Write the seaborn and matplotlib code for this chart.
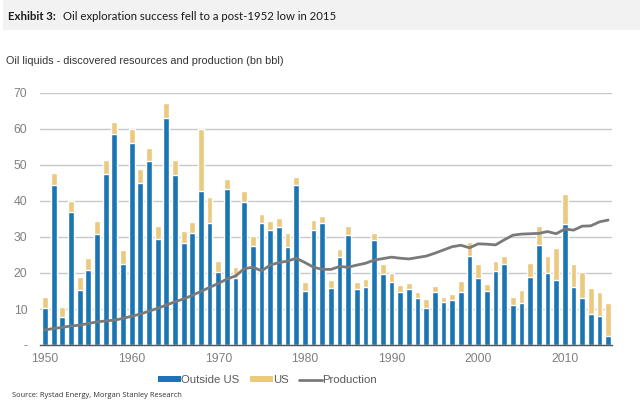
import numpy as np
import pandas as pd
import seaborn as sns
import matplotlib.pyplot as plt
from matplotlib.patches import Patch, Rectangle
from matplotlib.lines import Line2D

years = list(range(1950, 2016))

outside_us = [10.4, 44.4, 7.7, 36.9, 15.3, 20.7, 30.9, 47.5, 58.7, 22.5,
              56.2, 45.1, 51.0, 29.5, 63.1, 47.3, 28.2, 31.1, 42.9, 33.8,
              20.3, 43.3, 18.7, 39.8, 27.4, 33.8, 31.8, 32.8, 27.3, 44.3,
              15.1, 31.9, 33.8, 15.7, 24.4, 30.5, 15.5, 16.0, 29.2, 19.7,
              17.6, 14.8, 15.5, 13.0, 10.4, 14.6, 11.9, 12.4, 14.7, 24.8,
              18.6, 14.9, 20.6, 22.4, 11.1, 11.8, 18.9, 27.9, 20.1, 18.0,
              33.5, 16.1, 13.1, 8.5, 8.0, 2.5]

total = [13.4, 47.9, 10.6, 40.0, 18.8, 24.1, 34.4, 51.4, 62.0, 26.4,
         60.0, 49.0, 54.8, 33.1, 67.1, 51.4, 31.6, 34.1, 60.0, 41.0,
         23.4, 46.1, 21.6, 42.8, 30.4, 36.5, 34.4, 35.2, 31.0, 46.6,
         17.5, 34.7, 35.8, 18.0, 26.7, 33.0, 17.6, 18.4, 31.0, 22.4,
         20.1, 16.6, 17.1, 14.7, 12.9, 16.5, 13.4, 14.1, 17.8, 28.5,
         22.5, 16.9, 23.2, 24.6, 13.3, 15.3, 22.8, 33.0, 24.7, 27.0,
         42.0, 22.4, 20.4, 15.9, 14.8, 11.8]

us = [round(t - o, 1) for t, o in zip(total, outside_us)]

production = [4.2, 4.6, 4.9, 5.3, 5.5, 6.0, 6.4, 6.7, 6.9, 7.4,
              8.0, 8.6, 9.4, 10.2, 11.1, 12.0, 12.8, 13.8, 14.9, 16.0,
              17.1, 18.3, 19.2, 21.2, 21.6, 20.6, 22.2, 22.9, 23.3, 24.1,
              22.9, 21.6, 21.0, 21.0, 21.8, 21.6, 22.2, 22.7, 23.6, 24.0,
              24.4, 24.1, 23.9, 24.3, 24.7, 25.5, 26.4, 27.3, 27.7, 27.0,
              28.1, 28.0, 27.8, 29.2, 30.5, 30.8, 30.9, 31.0, 31.5, 30.9,
              32.2, 31.9, 33.0, 33.1, 34.2, 34.7]

df = pd.DataFrame({'year': years, 'outside': outside_us, 'us': us,
                   'production': production})
df['total'] = df['outside'] + df['us']

blue = '#1b75b3'
tan = '#ebc97f'
gray = '#7a7a7a'

sns.set_style('white')
plt.rcParams['font.family'] = ['Liberation Sans', 'DejaVu Sans']

fig = plt.figure(figsize=(6.4, 4.04), dpi=100)
ax = fig.add_axes([0.0625, 0.146, 0.894, 0.624])

# stacked bars: total in tan, outside US drawn over it
sns.barplot(data=df, x='year', y='total', color=tan, native_scale=True,
            width=0.66, saturation=1, ax=ax)
sns.barplot(data=df, x='year', y='outside', color=blue, native_scale=True,
            width=0.66, saturation=1, ax=ax)
sns.lineplot(data=df, x='year', y='production', color=gray, linewidth=2,
             ax=ax)

ax.set_xlim(1949.42, 2015.46)
ax.set_ylim(0, 70)
ax.set_yticks(range(0, 71, 10))
ax.set_yticklabels(['-'] + [str(v) for v in range(10, 71, 10)])
ax.set_xticks(range(1950, 2011, 10))
ax.set_xticklabels([str(v) for v in range(1950, 2011, 10)])
ax.yaxis.grid(True, color='#c8c8c8', linewidth=1)
ax.set_axisbelow(True)
ax.set_xlabel('')
ax.set_ylabel('')
ax.tick_params(axis='both', length=0, labelsize=8.8, colors='#808080')
ax.tick_params(axis='y', pad=9)
ax.tick_params(axis='x', pad=6)
for s in ['top', 'right', 'left']:
    ax.spines[s].set_visible(False)
ax.spines['bottom'].set_color('#555555')
ax.spines['bottom'].set_linewidth(1)

handles = [Patch(facecolor=blue, edgecolor='none'),
           Patch(facecolor=tan, edgecolor='none'),
           Line2D([0], [0], color=gray, linewidth=2)]
leg = fig.legend(handles, ['Outside US', 'US', 'Production'],
                 loc='center', bbox_to_anchor=(0.418, 0.059), ncol=3,
                 frameon=False, fontsize=8.2, handlelength=2.0,
                 handleheight=0.45, handletextpad=0.05, columnspacing=0.9)
for t in leg.get_texts():
    t.set_color('#595959')

# header band
fig.patches.append(Rectangle((0.005, 0.925), 0.995, 0.075,
                             transform=fig.transFigure,
                             facecolor='#f2f2f2', edgecolor='none'))
fig.text(0.013, 0.958, 'Exhibit 3:', fontsize=8.2, fontweight='bold',
         color='#1a1a1a', va='center', family=['Lato', 'DejaVu Sans'])
fig.text(0.099, 0.958, 'Oil exploration success fell to a post-1952 low in 2015',
         fontsize=8.2, color='#1a1a1a', va='center',
         family=['Lato', 'DejaVu Sans'])
fig.text(0.010, 0.850, 'Oil liquids - discovered resources and production (bn bbl)',
         fontsize=7.8, color='#333333', va='center')
fig.text(0.019, 0.02, 'Source: Rystad Energy, Morgan Stanley Research',
         fontsize=5.4, color='#333333', va='center',
         family=['Open Sans', 'DejaVu Sans'])

fig.savefig('out.png', dpi=100)
